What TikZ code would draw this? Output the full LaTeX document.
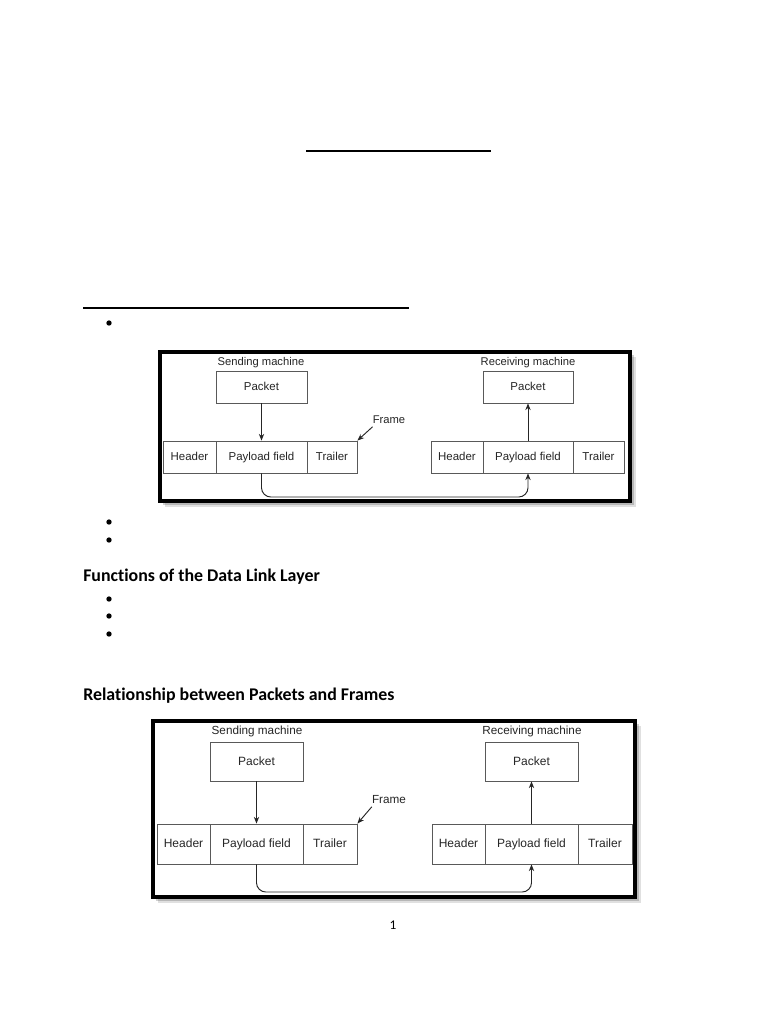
\documentclass[tikz,border=0pt]{standalone}
\usepackage{fontspec}
\setmainfont{Carlito}[Ligatures=NoCommon]
\newfontfamily\diagfont{Liberation Sans}
\usetikzlibrary{arrows.meta,fit}
\begin{document}
\begin{tikzpicture}[x=0.75pt,y=-0.75pt,
  cell/.style={draw=black!65,line width=0.7pt,inner sep=0pt},
  txt/.style={inner sep=0pt,text height=1.6ex,text depth=0.45ex,font=\diagfont\fontsize{8.6}{10}\selectfont,text=black!85},
  txtb/.style={txt,font=\diagfont\fontsize{9}{11}\selectfont},
  lbl/.style={txt,font=\diagfont\fontsize{8.4}{10}\selectfont},
  lblb/.style={txt,font=\diagfont\fontsize{8.8}{10}\selectfont},
  arr/.style={draw=black!85,line width=0.7pt,-{Stealth[length=5pt,width=4pt]}},
  frameborder/.style={draw=black,line width=2.8pt},
  shadowbox/.style={fill=black,opacity=0.18,draw=none},
  heading/.style={inner sep=0pt,anchor=base west,font=\bfseries\fontsize{13.4}{15}\selectfont},
  bullet/.style={circle,fill=black,inner sep=0pt,minimum size=4pt},
  rule/.style={line width=1.6pt}
]
\useasboundingbox (0,0) rectangle (768,1024);
\fill[white] (0,0) rectangle (768,1024);

% title rules
\draw[rule] (306,151) -- (491,151);
\draw[rule] (83,308) -- (409,308);
\node[bullet] (b0) at (109,323) {};

% ---------- diagram 1 ----------
\fill[shadowbox] (163,355) rectangle (634,505);
\fill[shadowbox,opacity=0.12] (165,357) rectangle (636,507);
\fill[white] (160,352) rectangle (630,501);
\draw[frameborder] (160,352) rectangle (630,501);

\node[lbl] (sm1) at (261,362) {Sending machine};
\node[lbl] (rm1) at (528,362) {Receiving machine};
\node[cell,fit={(216,371) (307,403)}] (ps1) {};
\node[txt] at (ps1.center) {Packet};
\node[cell,fit={(483,371) (573,403)}] (pr1) {};
\node[txt] at (pr1.center) {Packet};

\node[cell,fit={(163,441) (216,473)}] (hl1) {};
\node[txt] at (hl1.center) {Header};
\node[cell,fit={(216,441) (307,473)}] (pl1) {};
\node[txt] at (pl1.center) {Payload field};
\node[cell,fit={(307,441) (357,473)}] (tl1) {};
\node[txt] at (tl1.center) {Trailer};

\node[cell,fit={(431,441) (483,473)}] (hr1) {};
\node[txt] at (hr1.center) {Header};
\node[cell,fit={(483,441) (573,473)}] (pr1f) {};
\node[txt] at (pr1f.center) {Payload field};
\node[cell,fit={(573,441) (624,473)}] (tr1) {};
\node[txt] at (tr1.center) {Trailer};

\node[lbl] (fr1) at (389,420) {Frame};
\draw[arr] (ps1.south) -- (pl1.north);
\draw[arr] (pr1f.north) -- (pr1.south);
\draw[arr] (fr1.south west) -- (tl1.north east);
\coordinate (c1) at (394,497);
\draw[arr,rounded corners=7pt] (pl1.south) |- (c1) -| (pr1f.south);

\node[bullet] (b1) at (109,522) {};
\node[bullet] (b2) at (109,540) {};

\node[heading] (h1) at (83,581) {Functions of the Data Link Layer};
\node[bullet] (b3) at (109,599) {};
\node[bullet] (b4) at (109,616) {};
\node[bullet] (b5) at (109,634) {};

\node[heading] (h2) at (83,700) {Relationship between Packets and Frames};

% ---------- diagram 2 ----------
\fill[shadowbox] (156,724) rectangle (639,901);
\fill[shadowbox,opacity=0.12] (158,726) rectangle (641,903);
\fill[white] (153,721) rectangle (635,897);
\draw[frameborder] (153,721) rectangle (635,897);

\node[lblb] (sm2) at (257,731) {Sending machine};
\node[lblb] (rm2) at (532,731) {Receiving machine};
\node[cell,fit={(210,742) (303,781)}] (ps2) {};
\node[txtb] at (ps2.center) {Packet};
\node[cell,fit={(485,742) (578,781)}] (pr2) {};
\node[txtb] at (pr2.center) {Packet};

\node[cell,fit={(157,824) (210,864)}] (hl2) {};
\node[txtb] at (hl2.center) {Header};
\node[cell,fit={(210,824) (303,864)}] (pl2) {};
\node[txtb] at (pl2.center) {Payload field};
\node[cell,fit={(303,824) (357,864)}] (tl2) {};
\node[txtb] at (tl2.center) {Trailer};

\node[cell,fit={(432,824) (485,864)}] (hr2) {};
\node[txtb] at (hr2.center) {Header};
\node[cell,fit={(485,824) (578,864)}] (pr2f) {};
\node[txtb] at (pr2f.center) {Payload field};
\node[cell,fit={(578,824) (632,864)}] (tr2) {};
\node[txtb] at (tr2.center) {Trailer};

\node[lblb] (fr2) at (389,800) {Frame};
\draw[arr] (ps2.south) -- (pl2.north);
\draw[arr] (pr2f.north) -- (pr2.south);
\draw[arr] (fr2.south west) -- (tl2.north east);
\coordinate (c2) at (394,892);
\draw[arr,rounded corners=7pt] (pl2.south) |- (c2) -| (pr2f.south);

\node[inner sep=0pt,font=\fontsize{10}{12}\selectfont] (pg) at (393,925) {1};
\end{tikzpicture}
\end{document}
